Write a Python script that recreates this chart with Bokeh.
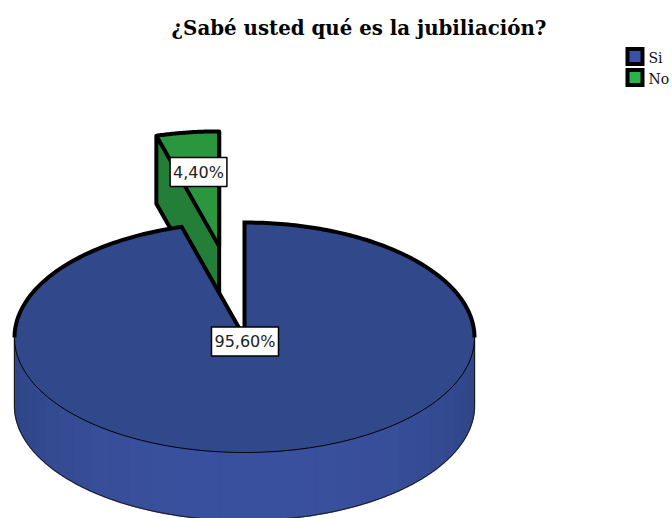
import numpy as np
from bokeh.plotting import figure
from bokeh.models import Range1d
from bokeh.core.properties import value
from bokeh.embed import file_html
from bokeh.resources import INLINE

title_text = "¿Sabé usted qué es la jubiliación?"
categories = ["Si", "No"]
percents = [95.6, 4.4]
labels = ["95,60%", "4,40%"]

CX, CY, RX, RY, DEPTH = 244.0, 337.0, 230.0, 115.0, 68.0
EXPLODE = 0.8
BLACK = "#000000"
INK = "#1c1c1c"


def arc(a0, a1, cx=CX, cy=CY, n=160):
    a = np.linspace(a0, a1, n)
    return cx + RX * np.sin(a), cy - RY * np.cos(a)


p = figure(width=672, height=518, frame_width=672, frame_height=478,
           x_range=Range1d(0, 672), y_range=Range1d(518, 40),
           output_backend="svg", toolbar_location=None,
           min_border=0, min_border_top=40, outline_line_color=None)
p.xaxis.visible = False
p.yaxis.visible = False
p.xgrid.visible = False
p.ygrid.visible = False

p.title.text = title_text
p.title.text_font = "DejaVu Serif"
p.title.text_font_style = "bold"
p.title.text_font_size = "19.8px"
p.title.text_color = "#000000"
p.title.align = "left"
p.title.offset = 171
p.title.standoff = 1

# exploded slice
frac_si = percents[0] / 100
frac_no = percents[1] / 100
ang_si = 2 * np.pi * frac_si
ang_no = 2 * np.pi * frac_no
mid = -ang_no / 2
gx = CX + EXPLODE * RX * np.sin(mid)
gy = CY - EXPLODE * RY * np.cos(mid)
ax, ay = arc(-ang_no, 0, gx, gy, 40)

# left cut wall of the exploded slice
wall_x = [ax[0], ax[0], gx, gx]
wall_y = [ay[0], ay[0] + DEPTH, gy + DEPTH, gy]
p.patch(wall_x, wall_y, fill_color="#237f38", line_color=None)
p.patch(list(ax) + [gx], list(ay) + [gy], fill_color="#2a963e", line_color=None)
p.line(list(ax) + [gx, ax[0], ax[0], gx], list(ay) + [gy, ay[0], ay[0] + DEPTH, gy + DEPTH],
       line_color=BLACK, line_width=4, line_join="round")
p.line([gx, gx], [ay[-1], gy + DEPTH], line_color=BLACK, line_width=4)

# front wall of the main slice: vertical strips
edges = np.linspace(np.pi / 2, 3 * np.pi / 2, 31)
for a0, a1 in zip(edges[:-1], edges[1:]):
    xs, ys = arc(a0, a1, n=8)
    t = np.sin((a0 + a1) / 2 - np.pi / 2)
    c = (int(47 + 11 * t), int(68 + 13 * t), int(130 + 29 * t))
    col = "#%02x%02x%02x" % c
    p.patch(list(xs) + list(xs[::-1]), list(ys) + list(ys[::-1] + DEPTH),
            fill_color=col, line_color=col, line_width=1.5)
bx, by = arc(np.pi / 2, 3 * np.pi / 2)
p.line([bx[0]] + list(bx) + [bx[-1]], [by[0]] + list(by + DEPTH) + [by[-1]],
       line_color=INK, line_width=1)

# top face of the main slice
tx, ty = arc(0, ang_si, n=400)
p.patch([CX] + list(tx), [CY] + list(ty), fill_color="#31488b", line_color=None)
p.line(bx, by, line_color=BLACK, line_width=1)
ux, uy = arc(3 * np.pi / 2, ang_si, n=60)
vx, vy = arc(0, np.pi / 2, n=100)
p.line(list(ux) + [CX] + list(vx), list(uy) + [CY] + list(vy),
       line_color=BLACK, line_width=4, line_join="miter")

# data labels
lab_x = [CX + 0.5, 198]
lab_y = [CY + 4, 171.5]
p.text(lab_x, lab_y, text=labels, text_align="center", text_baseline="middle",
       text_font=value("DejaVu Sans"), text_font_size="16px", text_color="#222222",
       background_fill_color="#ffffff", border_line_color="#000000", border_line_width=1.5,
       padding=(3, 5))

# legend
leg_y = [56, 77]
p.rect([634.5, 634.5], leg_y, width=15, height=15,
       fill_color=["#3953a4", "#2db14b"], line_color=BLACK, line_width=4, line_join="miter")
p.text([648, 648], [y + 1 for y in leg_y], text=categories, text_baseline="middle",
       text_font=value("DejaVu Serif"), text_font_size="14px", text_color="#111111")

open("out.html", "w").write(file_html(p, INLINE))
